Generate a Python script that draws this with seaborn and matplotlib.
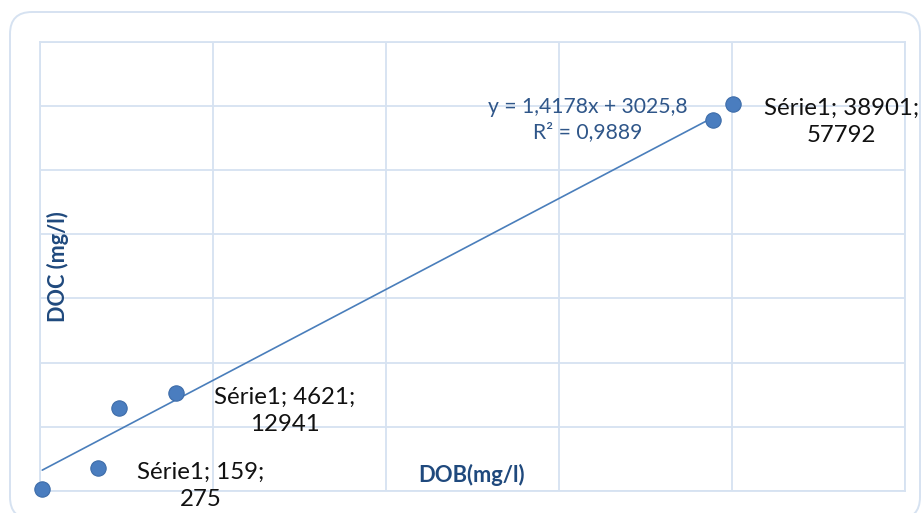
import numpy as np
import pandas as pd
import matplotlib
matplotlib.use("Agg")
import matplotlib.pyplot as plt
from matplotlib.patches import FancyBboxPatch
from matplotlib.transforms import IdentityTransform
import seaborn as sns

# Measured concentrations (mg/l)
dob = [159, 3390, 4621, 7860, 38901, 40050]
doc = [275, 3540, 12941, 15320, 57792, 60290]

# Points carrying a data label
label_dob = [159, 4621, 38901]
label_doc = [275, 12941, 57792]
series_name = "Série1"

# Linear trendline as reported
slope = 1.4178
intercept = 3025.8
r_squared = 0.9889

x_ticks = [0, 10000, 20000, 30000, 40000, 50000]
y_ticks = [0, 10000, 20000, 30000, 40000, 50000, 60000, 70000]

sns.set_theme(style="white")
plt.rcParams["font.family"] = ["Lato", "DejaVu Sans"]

W, H = 921, 513
fig = plt.figure(figsize=(W / 100, H / 100), dpi=100)

# Rounded chart card
card = FancyBboxPatch((10, -6), 910, 507,
                      boxstyle="round,pad=0,rounding_size=22",
                      transform=IdentityTransform(),
                      facecolor="white", edgecolor="#d6e2f1", linewidth=1.4,
                      zorder=0)
fig.add_artist(card)

ax = fig.add_axes([39.5 / W, (H - 491) / H, 865.5 / W, 449.3 / H])
ax.set_facecolor("none")

grid_c = "#d6e2f1"
ax.set_xlim(x_ticks[0], x_ticks[-1])
ax.set_ylim(y_ticks[0], y_ticks[-1])
ax.set_xticks(x_ticks)
ax.set_yticks(y_ticks)
ax.tick_params(length=0, labelbottom=False, labelleft=False)
ax.grid(True, color=grid_c, linewidth=1.3)
for sp in ax.spines.values():
    sp.set_color(grid_c)
    sp.set_linewidth(1.3)

# Trendline across the labelled range
tx = np.array([min(label_dob), max(label_dob)], dtype=float)
trend = pd.DataFrame({"x": tx, "y": slope * tx + intercept})
sns.lineplot(data=trend, x="x", y="y", ax=ax, color="#4a7ebb",
             linewidth=1.2, zorder=4)

# Data points
pts = pd.DataFrame({"DOB": dob, "DOC": doc})
sns.scatterplot(data=pts, x="DOB", y="DOC", ax=ax, s=122,
                color="#4a7dbf", edgecolor="#3d6ca9", linewidth=0.8,
                zorder=6, clip_on=False)
ax.set_xlabel("")
ax.set_ylabel("")

# Data labels
offsets = [(158, 3), (165, -3), (129, -1.5)]
for xv, yv, off in zip(label_dob, label_doc, offsets):
    ax.annotate(f"{series_name}; {xv};\n{yv}", xy=(xv, yv),
                xytext=off, textcoords="offset pixels",
                ha="center", va="center", fontsize=17.3,
                linespacing=1.35, color="#111111",
                annotation_clip=False, zorder=7)

# Trendline equation
eq = f"y = {slope:.4f}x + {intercept:.1f}".replace(".", ",")
r2 = f"R² = {r_squared:.4f}".replace(".", ",")
fig.text(588 / W, 1 - 119.5 / H, eq + "\n" + r2, ha="center", va="center",
         fontsize=15.2, linespacing=1.35, color="#2f5689")

# Axis titles placed inside the plot area
fig.text(472 / W, 1 - 475 / H, "DOB(mg/l)", ha="center", va="center",
         fontsize=15.8, fontweight="bold", color="#1f497d")
fig.text(58 / W, 1 - 267 / H, "DOC (mg/l)", ha="center", va="center",
         rotation=90, fontsize=15.6, fontweight="bold", color="#1f497d")

fig.savefig("out.png", dpi=100)
